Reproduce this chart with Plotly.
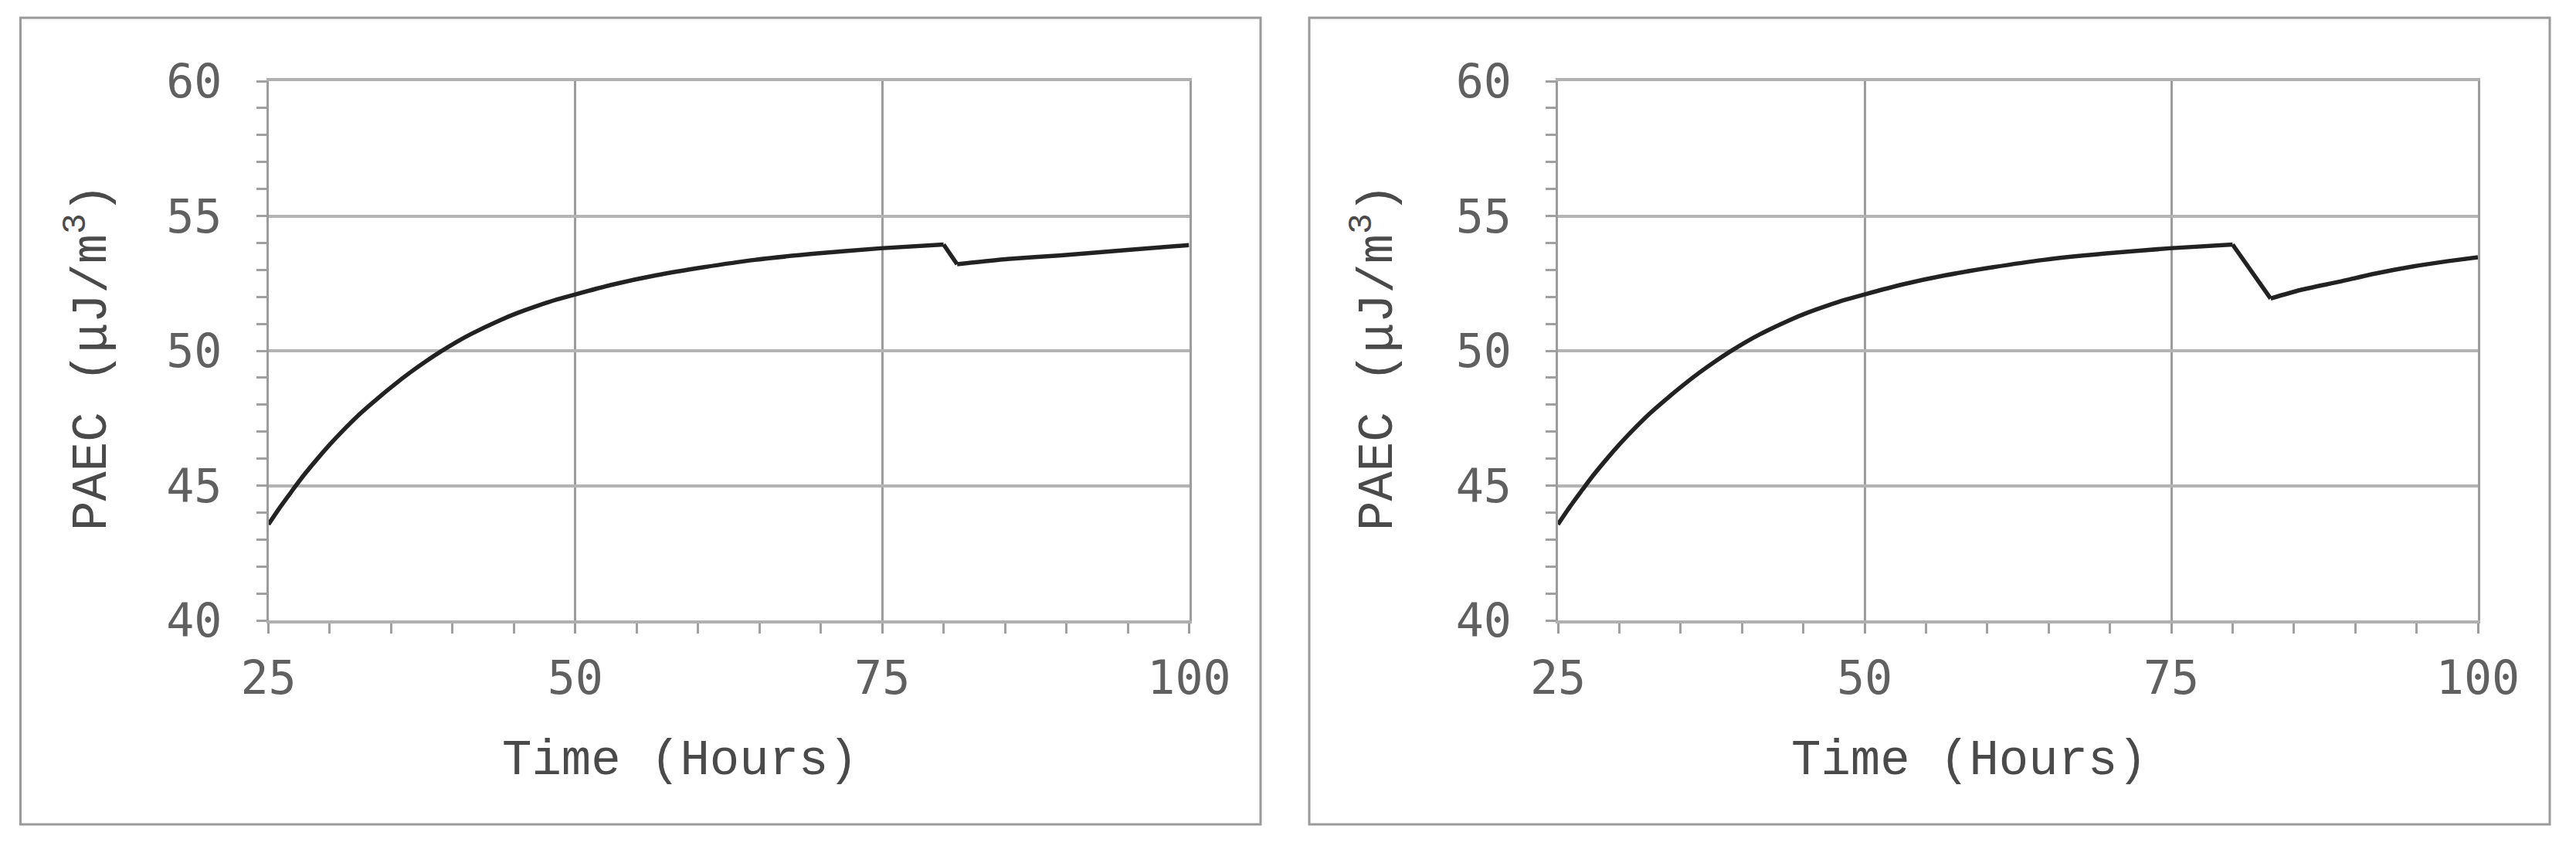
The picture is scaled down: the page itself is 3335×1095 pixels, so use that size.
import plotly.graph_objects as go

# ---- data ----
hours_a = [25, 26, 27, 27.7, 29, 30, 30.9, 32.5, 34.15, 35.3, 36.5, 37.8, 39, 40.3,
           41.5, 43.8, 45.4, 47, 48.5, 50, 53, 56.6, 60.5, 64.6, 69.5, 74.85, 80,
           81.1, 85.2, 89.6, 95, 100]
paec_a = [43.56, 44.23, 44.85, 45.28, 46.0, 46.52, 46.96, 47.68, 48.33, 48.76, 49.18,
          49.6, 49.96, 50.32, 50.62, 51.12, 51.42, 51.68, 51.9, 52.09, 52.45, 52.8,
          53.1, 53.37, 53.6, 53.8, 53.94, 53.21, 53.4, 53.54, 53.74, 53.92]

hours_b = [25, 26, 27, 27.7, 29, 30, 30.9, 32.5, 34.15, 35.3, 36.5, 37.8, 39, 40.3,
           41.5, 43.8, 45.4, 47, 48.5, 50, 53, 56.6, 60.5, 64.6, 69.5, 74.85, 80,
           83.1, 85.5, 88.7, 91.5, 94.75, 97.5, 100]
paec_b = [43.56, 44.23, 44.85, 45.28, 46.0, 46.52, 46.96, 47.68, 48.33, 48.76, 49.18,
          49.6, 49.96, 50.32, 50.62, 51.12, 51.42, 51.68, 51.9, 52.09, 52.45, 52.8,
          53.1, 53.37, 53.6, 53.8, 53.94, 51.94, 52.25, 52.56, 52.85, 53.13, 53.32,
          53.47]

x_ticks = [25, 50, 75, 100]
y_ticks = [40, 45, 50, 55, 60]
x_title = "Time (Hours)"
y_title = "PAEC (μJ/m<sup>3</sup>)"

# page has an 8px body margin; figure fills the rest of the window
OFF = 8
W, H = 3335 - OFF, 1095 - OFF

def px(x):
    return (x - OFF) / W

def py(y):
    return (H - (y - OFF)) / H

LINE = dict(color="#222222", width=5.5)

def add_series(fig, xs, ys, xa, ya):
    # smooth rise, straight drop at the peak, smooth recovery
    k = ys.index(max(ys))
    fig.add_trace(go.Scatter(x=xs[:k + 1], y=ys[:k + 1], mode="lines",
                             line=dict(LINE, shape="spline", smoothing=0.6),
                             xaxis=xa, yaxis=ya, showlegend=False))
    fig.add_trace(go.Scatter(x=xs[k:k + 2], y=ys[k:k + 2], mode="lines",
                             line=dict(LINE, shape="linear"),
                             xaxis=xa, yaxis=ya, showlegend=False))
    fig.add_trace(go.Scatter(x=xs[k + 1:], y=ys[k + 1:], mode="lines",
                             line=dict(LINE, shape="spline", smoothing=0.6),
                             xaxis=xa, yaxis=ya, showlegend=False))

fig = go.Figure()
add_series(fig, hours_a, paec_a, "x", "y")
add_series(fig, hours_b, paec_b, "x2", "y2")

tick_font = dict(family="DejaVu Sans Mono", size=60, color="#606060")

def xaxis_cfg(domain, anchor):
    return dict(domain=domain, anchor=anchor, range=[25, 100], tickvals=x_ticks,
                ticktext=[str(v) for v in x_ticks], automargin=False,
                showline=True, mirror=True, linecolor="#b0b0b0", linewidth=4,
                showgrid=True, gridcolor="#9c9c9c", gridwidth=3,
                ticks="outside", ticklen=13, tickwidth=3, tickcolor="#9c9c9c",
                minor=dict(dtick=5, tick0=25, ticks="outside", ticklen=13,
                           tickwidth=3, tickcolor="#a0a0a0", showgrid=False),
                tickfont=tick_font, ticklabelstandoff=6, zeroline=False,
                fixedrange=True)

def yaxis_cfg(domain, anchor):
    return dict(domain=domain, anchor=anchor, range=[40, 60], tickvals=y_ticks,
                ticktext=[str(v) for v in y_ticks], automargin=False,
                showline=True, mirror=True, linecolor="#9c9c9c", linewidth=3,
                showgrid=True, gridcolor="#b4b4b4", gridwidth=4,
                ticks="outside", ticklen=13, tickwidth=3, tickcolor="#a0a0a0",
                minor=dict(dtick=1, tick0=40, ticks="outside", ticklen=13,
                           tickwidth=3, tickcolor="#a0a0a0", showgrid=False),
                tickfont=tick_font, ticklabelstandoff=32, zeroline=False,
                fixedrange=True)

ydom = [py(803), py(105)]
fig.update_layout(
    template="none",
    width=W, height=H,
    margin=dict(l=0, r=0, t=0, b=0, pad=0, autoexpand=False),
    paper_bgcolor="white", plot_bgcolor="white",
    showlegend=False,
    xaxis=xaxis_cfg([px(347.5), px(1539.5)], "y"),
    yaxis=yaxis_cfg(ydom, "x"),
    xaxis2=xaxis_cfg([px(2017), px(3208)], "y2"),
    yaxis2=yaxis_cfg(ydom, "x2"),
)

# outer frames
for x0, x1 in [(26.5, 1632), (1695, 3301)]:
    fig.add_shape(type="rect", xref="paper", yref="paper",
                  x0=px(x0), x1=px(x1), y0=py(1067), y1=py(23),
                  line=dict(color="#9a9a9a", width=3), fillcolor="rgba(0,0,0,0)")

title_font = dict(family="Liberation Mono", size=64, color="#4a4a4a")
for xc in [880, 2549]:
    fig.add_annotation(text=x_title, xref="paper", yref="paper",
                       x=px(xc), y=py(985), xanchor="center", yanchor="middle",
                       showarrow=False, font=title_font)
for xc in [115, 1780]:
    fig.add_annotation(text=y_title, xref="paper", yref="paper",
                       x=px(xc), y=py(463), xanchor="center", yanchor="middle",
                       textangle=-90, showarrow=False, font=title_font)

fig.write_html("out.html")
